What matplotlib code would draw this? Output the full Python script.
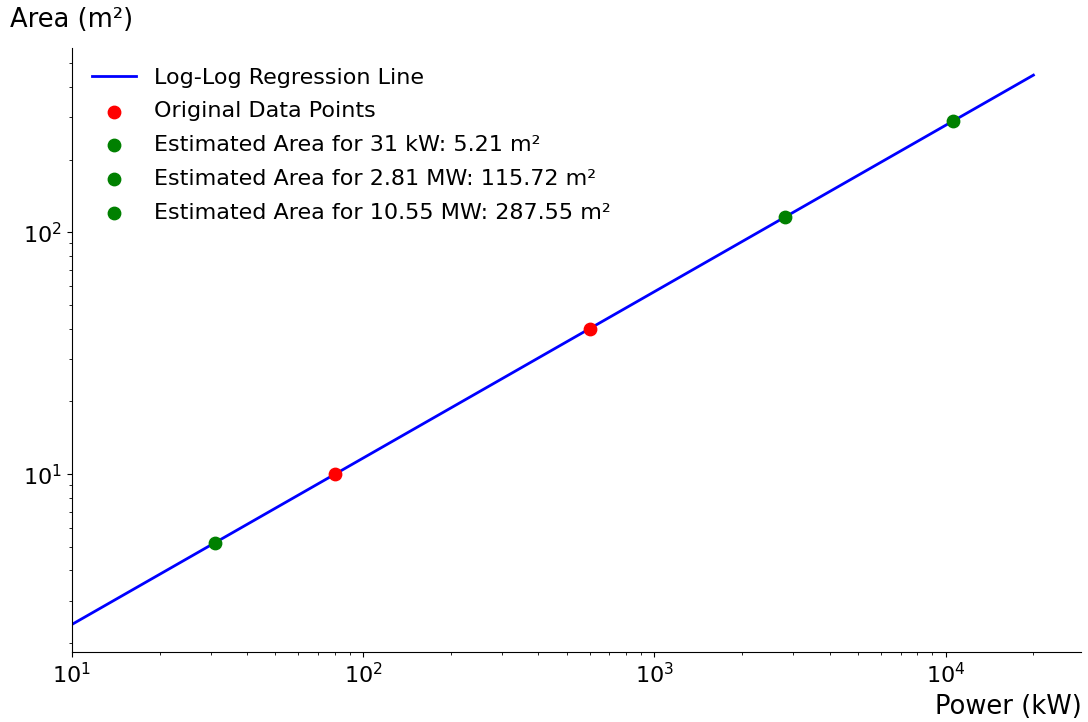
import numpy as np
import matplotlib.pyplot as plt

# original measurements (kW, m²)
power_orig = [80, 600]
area_orig = [10, 40]

# regression line end points
line_power = [10, 20000]
line_area = [2.39, 446.6]

# estimated areas
est_power = [31, 2810, 10550]
est_area = [5.21, 115.72, 287.55]
est_labels = ["Estimated Area for 31 kW: 5.21 m²",
              "Estimated Area for 2.81 MW: 115.72 m²",
              "Estimated Area for 10.55 MW: 287.55 m²"]

plt.rcParams.update({'font.size': 16})
fig, ax = plt.subplots(figsize=(10.88, 7.22), dpi=100)
fig.subplots_adjust(left=0.066, right=0.994, top=0.934, bottom=0.097)

ax.plot(line_power, line_area, color='blue', lw=2, label="Log-Log Regression Line")
ax.scatter(power_orig, area_orig, color='red', s=80, zorder=3, label="Original Data Points")
for p, a, lab in zip(est_power, est_area, est_labels):
    ax.scatter([p], [a], color='green', s=80, zorder=3, label=lab)

ax.set_xscale('log')
ax.set_yscale('log')
ax.set_xlim(10, 29240)

ax.spines['top'].set_visible(False)
ax.spines['right'].set_visible(False)

ax.set_xlabel("Power (kW)", fontsize=18.5)
ax.xaxis.set_label_coords(1.0, -0.07)
ax.xaxis.label.set_ha('right')
ax.set_ylabel("Area (m²)", fontsize=18.5, rotation=0)
ax.yaxis.set_label_coords(0.0, 1.024)
ax.yaxis.label.set_ha('center')

ax.legend(loc='upper left', frameon=False, fontsize=16, labelspacing=0.62)

plt.savefig("out.png")
